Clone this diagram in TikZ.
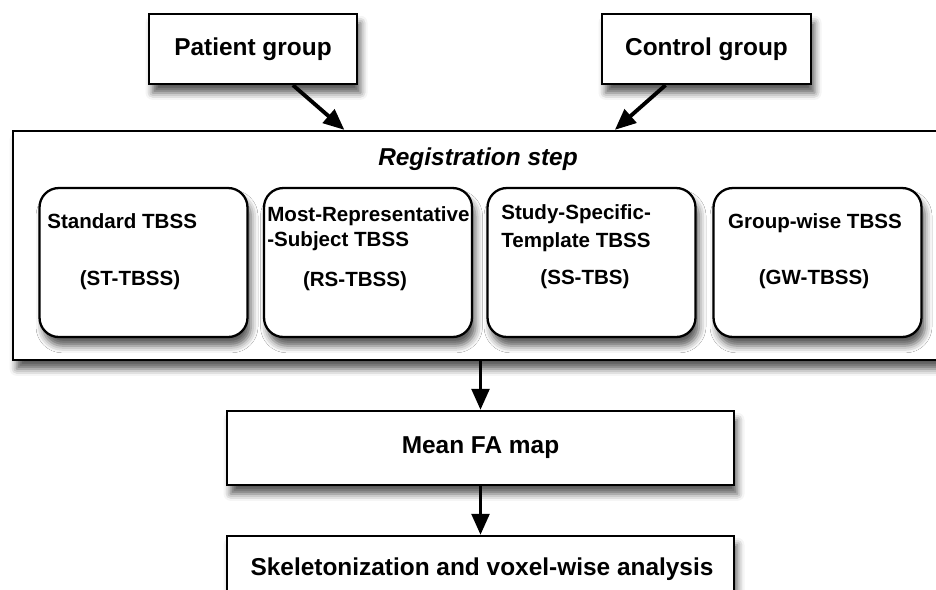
\documentclass[tikz,border=0pt]{standalone}
\usepackage{fontspec}
\setmainfont{Liberation Sans}
\usetikzlibrary{calc,arrows.meta,shadows.blur}

\begin{document}
\begin{tikzpicture}[x=0.02cm, y=-0.02cm,
	box/.style = {draw, line width=1.3pt, fill=white, blur shadow={shadow xshift=2pt, shadow yshift=-5pt, shadow blur radius=4pt, shadow opacity=65}},
	method/.style = {box, rounded corners=11pt, minimum width=4.16cm, minimum height=2.98cm},
	big/.style = {font=\fontsize{13.9}{16}\selectfont\bfseries},
	small/.style = {inner sep=0pt, font=\fontsize{11.7}{14}\selectfont\bfseries},
	flow/.style = {line width=2.2pt, -{Triangle[length=12pt,width=10pt]}}]
	\useasboundingbox (0,0) rectangle (936,589);
	\clip (0,0) rectangle (936,589);
	% input groups
	\node[box, big, minimum width=4.16cm, minimum height=1.4cm] (patient) at (253,49) {Patient group};
	\node[box, big, minimum width=4.18cm, minimum height=1.4cm] (control) at (706.5,49) {Control group};
	% registration step
	\node[box, minimum width=18.74cm, minimum height=4.58cm] (reg) at (481.5,245.5) {};
	\node[big, font=\fontsize{13.9}{16}\selectfont\bfseries\itshape] (regtitle) at (478,159) {Registration step};
	\node[method] (st) at (143.5,262.5) {};
	\node[method] (rs) at (368,262.5) {};
	\node[method] (ss) at (591.5,262.5) {};
	\node[method] (gw) at (817.5,262.5) {};
	\node[small, anchor=base west] (sta) at (47,228) {Standard TBSS};
	\node[small, anchor=base] (stb) at (130,285) {(ST-TBSS)};
	\node[small, anchor=base west] (rsa) at (267,221) {Most-Representative};
	\node[small, anchor=base west] (rsb) at (267,246) {-Subject TBSS};
	\node[small, anchor=base] (rsc) at (355,286) {(RS-TBSS)};
	\node[small, anchor=base west] (ssa) at (501,219) {Study-Specific-};
	\node[small, anchor=base west] (ssb) at (501,247) {Template TBSS};
	\node[small, anchor=base] (ssc) at (585,284) {(SS-TBS)};
	\node[small, anchor=base] (gwa) at (815,228) {Group-wise TBSS};
	\node[small, anchor=base] (gwb) at (814,284) {(GW-TBSS)};
	% later steps
	\node[box, big, minimum width=10.14cm, minimum height=1.48cm] (mean) at (480.5,448) {Mean FA map};
	\node[box, minimum width=10.14cm, minimum height=1.8cm] (skel) at (480.5,581) {};
	\node[big, anchor=base] (skeltext) at (482,575) {Skeletonization and voxel-wise analysis};
	\draw[flow] ($(patient.south west)!0.69!(patient.south east)$) -- ($(reg.north west)!0.354!(reg.north east)$);
	\draw[flow] ($(control.south west)!0.306!(control.south east)$) -- ($(reg.north west)!0.642!(reg.north east)$);
	\draw[flow] (mean.north |- reg.south) -- (mean.north);
	\draw[flow] (mean.south) -- (skel.north);
\end{tikzpicture}
\end{document}
